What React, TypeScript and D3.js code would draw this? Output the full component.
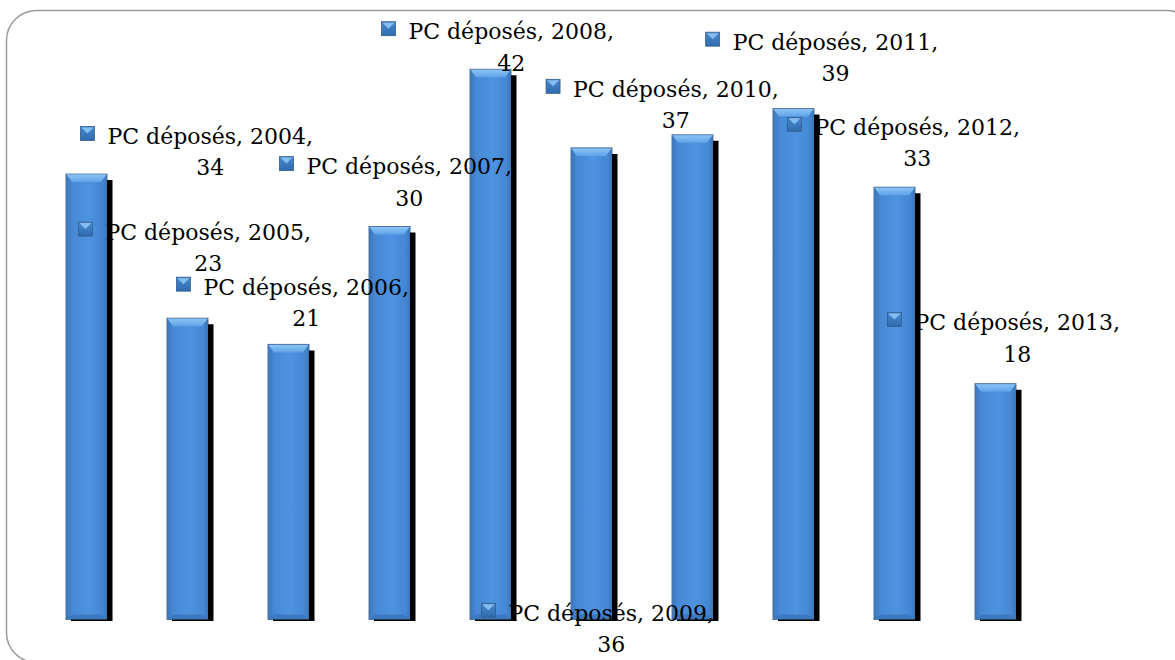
import { useEffect, useRef } from 'react';
import * as d3 from 'd3';

const years = ['2004', '2005', '2006', '2007', '2008', '2009', '2010', '2011', '2012', '2013'];
const pcDeposes = [34, 23, 21, 30, 42, 36, 37, 39, 33, 18];
const seriesName = 'PC déposés';

// where Excel dropped each data label: marker offset (in category steps from the bar centre)
// and marker height (in value units)
const labelStepOffset = [-0.06, -1.08, -1.11, -1.09, -1.08, -1.09, -1.45, -0.87, -1.06, -1.07];
const labelValueAt = [37.1, 29.8, 25.6, 34.8, 45.1, 0.7, 40.7, 44.3, 37.8, 22.9];

const W = 1175;
const H = 660;

export default function App() {
  const svgRef = useRef<SVGSVGElement>(null);

  useEffect(() => {
    if (!svgRef.current) return;
    const svg = d3.select(svgRef.current);
    svg.selectAll('*').remove();

    const defs = svg.append('defs');
    const barGrad = defs.append('linearGradient').attr('id', 'barGrad')
      .attr('x1', '0').attr('x2', '1').attr('y1', '0').attr('y2', '0');
    barGrad.append('stop').attr('offset', '0%').attr('stop-color', '#3b76bd');
    barGrad.append('stop').attr('offset', '15%').attr('stop-color', '#4688d3');
    barGrad.append('stop').attr('offset', '55%').attr('stop-color', '#4d94e0');
    barGrad.append('stop').attr('offset', '90%').attr('stop-color', '#4486d2');
    barGrad.append('stop').attr('offset', '100%').attr('stop-color', '#3a74ba');

    const bevelGrad = defs.append('linearGradient').attr('id', 'bevelGrad')
      .attr('x1', '0').attr('x2', '0').attr('y1', '0').attr('y2', '1');
    bevelGrad.append('stop').attr('offset', '0%').attr('stop-color', '#8cc4f5');
    bevelGrad.append('stop').attr('offset', '100%').attr('stop-color', '#5ea3e8');

    const keyGrad = defs.append('linearGradient').attr('id', 'keyGrad')
      .attr('x1', '0').attr('x2', '0').attr('y1', '0').attr('y2', '1');
    keyGrad.append('stop').attr('offset', '0%').attr('stop-color', '#4a8ad0');
    keyGrad.append('stop').attr('offset', '100%').attr('stop-color', '#2f6aae');

    // chart area border
    svg.append('rect')
      .attr('x', 6.5).attr('y', 10.5)
      .attr('width', 1190).attr('height', 652)
      .attr('rx', 30).attr('ry', 30)
      .attr('fill', '#fff')
      .attr('stroke', '#9a9a9a')
      .attr('stroke-width', 1.5);

    const x = d3.scaleBand<string>()
      .domain(years)
      .range([36, 1046])
      .paddingInner(60 / 101)
      .paddingOuter(30 / 101);
    const y = d3.scaleLinear().domain([0, 45]).range([619.5, 30]);

    const bw = x.bandwidth();
    const step = x.step();

    const data = years.map((yr, i) => ({ yr, v: pcDeposes[i], i }));

    // bars
    const bars = svg.append('g');
    data.forEach(d => {
      const bx = x(d.yr)!;
      const by = y(d.v);
      const bh = y(0) - by;
      const g = bars.append('g');
      g.append('rect')
        .attr('x', bx).attr('y', by)
        .attr('width', bw).attr('height', bh)
        .attr('fill', 'url(#barGrad)')
        .attr('stroke', '#4f74a0')
        .attr('stroke-width', 1);
      // top bevel
      g.append('path')
        .attr('d', `M${bx + 0.5},${by + 0.5} L${bx + bw - 0.5},${by + 0.5} L${bx + bw - 6},${by + 8} L${bx + 6},${by + 8} Z`)
        .attr('fill', 'url(#bevelGrad)');
      // bottom bevel
      g.append('path')
        .attr('d', `M${bx + 0.5},${by + bh - 0.5} L${bx + bw - 0.5},${by + bh - 0.5} L${bx + bw - 6},${by + bh - 5} L${bx + 6},${by + bh - 5} Z`)
        .attr('fill', '#3d78bf');
    });

    // data labels
    const fontSize = 22;
    const labels = svg.append('g')
      .attr('font-family', '"DejaVu Serif", serif')
      .attr('font-size', fontSize)
      .attr('fill', '#000');
    data.forEach(d => {
      const mx = x(d.yr)! + bw / 2 + labelStepOffset[d.i] * step;
      const my = y(labelValueAt[d.i]);
      const k = 14;
      labels.append('rect')
        .attr('x', mx).attr('y', my - k / 2)
        .attr('width', k).attr('height', k)
        .attr('fill', 'url(#keyGrad)')
        .attr('stroke', '#355d8c').attr('stroke-width', 0.8);
      labels.append('path')
        .attr('d', `M${mx + 1},${my - k / 2 + 1} L${mx + k - 1},${my - k / 2 + 1} L${mx + k / 2},${my} Z`)
        .attr('fill', '#86bdf0');
      const tx = mx + 27;
      const t = labels.append('text')
        .attr('x', tx).attr('y', my + 10.5)
        .text(`${seriesName}, ${d.yr},`);
      const tw = (t.node() as SVGTextElement).getComputedTextLength();
      labels.append('text')
        .attr('x', tx + tw / 2).attr('y', my + 42)
        .attr('text-anchor', 'middle')
        .text(d.v);
    });

    // bar shadows drawn last, the way they sit over the labels in the original
    const shadows = svg.append('g');
    data.forEach(d => {
      const bx = x(d.yr)!;
      const by = y(d.v);
      const base = y(0);
      shadows.append('path')
        .attr('d', `M${bx + bw},${by + 6} L${bx + bw + 5.5},${by + 6} L${bx + bw + 5.5},${base + 1.5} L${bx + 5},${base + 1.5} L${bx + 5},${base} L${bx + bw},${base} Z`)
        .attr('fill', '#000');
    });
  }, []);

  return (
    <svg
      ref={svgRef}
      width={W}
      height={H}
      style={{ position: 'absolute', left: 0, top: 0, background: '#fff' }}
    />
  );
}
